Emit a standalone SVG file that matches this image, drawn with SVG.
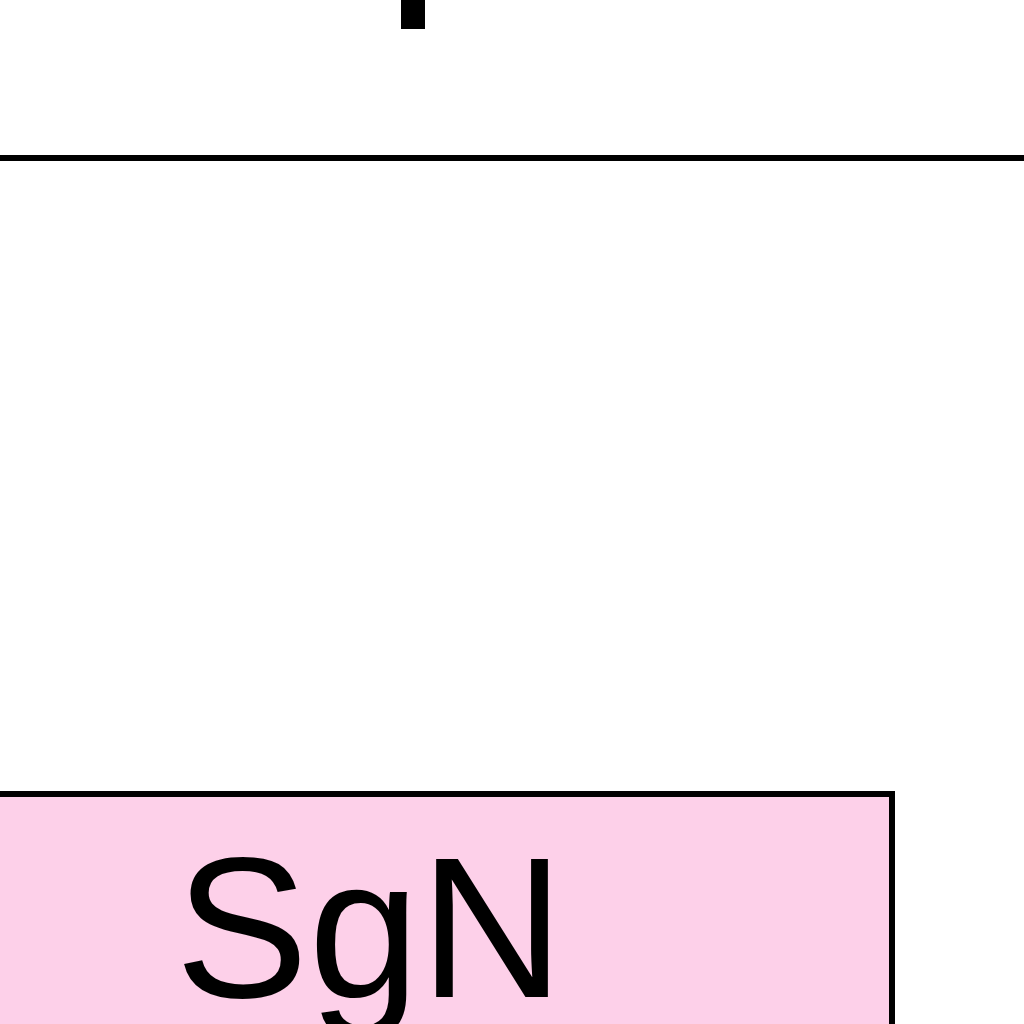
<svg xmlns="http://www.w3.org/2000/svg" width="1024" height="1024" viewBox="0 0 1024 1024">
<style>
.node{fill:#fdd0e9;stroke:#000;stroke-width:6}
.lbl{font-family:"Liberation Sans",Arial,sans-serif;font-size:200px;fill:#000}
.edge{stroke:#000;fill:none}
</style>
<rect width="1024" height="1024" fill="#fff"/>
<g id="connectors">
<line class="edge" x1="413" y1="-5" x2="413" y2="29" stroke-width="24"/>
<line class="edge" x1="-5" y1="158" x2="1030" y2="158" stroke-width="6"/>
</g>
<g id="node-SgN">
<rect class="node" x="-20" y="794" width="912" height="300"/>
<text class="lbl" x="175" y="997">SgN</text>
</g>
</svg>
